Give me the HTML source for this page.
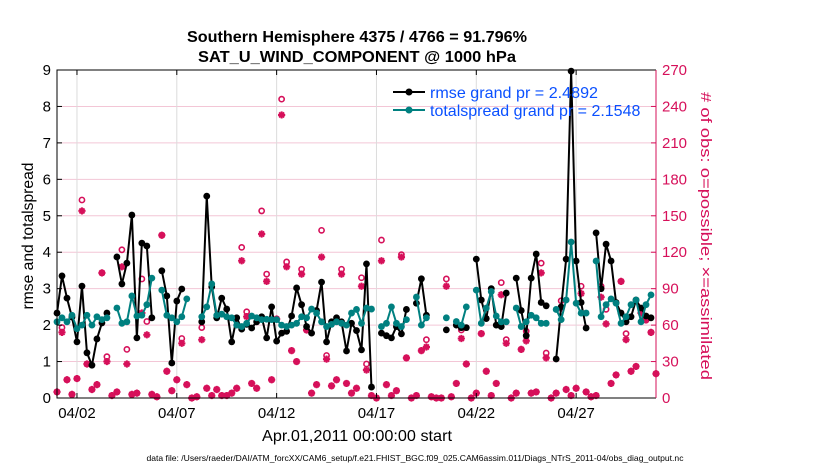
<!DOCTYPE html>
<html><head><meta charset="utf-8"><style>
body{margin:0;background:#fff;width:830px;height:470px;overflow:hidden;font-family:"Liberation Sans",sans-serif}
svg text{font-family:"Liberation Sans",sans-serif}
</style></head><body>
<svg id="chart" width="830" height="470" xmlns="http://www.w3.org/2000/svg">
<text x="357" y="42" font-size="16" font-weight="bold" text-anchor="middle" textLength="340" lengthAdjust="spacingAndGlyphs">Southern Hemisphere 4375 / 4766 = 91.796%</text>
<text x="357" y="62" font-size="16" font-weight="bold" text-anchor="middle" textLength="318" lengthAdjust="spacingAndGlyphs">SAT_U_WIND_COMPONENT @ 1000 hPa</text>
<g id="grid"></g><g id="marks"></g><g id="axes"></g>
<text transform="translate(33,236) rotate(-90)" font-size="15.5" text-anchor="middle" textLength="147" lengthAdjust="spacingAndGlyphs">rmse and totalspread</text>
<text transform="translate(701,236) rotate(90)" font-size="14.5" fill="#d6105a" text-anchor="middle" textLength="288" lengthAdjust="spacingAndGlyphs"># of obs: o=possible; ×=assimilated</text>
<text x="357" y="441" font-size="16" text-anchor="middle" textLength="190" lengthAdjust="spacingAndGlyphs">Apr.01,2011 00:00:00 start</text>
<text x="415" y="461" font-size="8.5" text-anchor="middle" textLength="537" lengthAdjust="spacingAndGlyphs">data file: /Users/raeder/DAI/ATM_forcXX/CAM6_setup/f.e21.FHIST_BGC.f09_025.CAM6assim.011/Diags_NTrS_2011-04/obs_diag_output.nc</text>
<g>
<line x1="393" y1="92" x2="425" y2="92" stroke="#000" stroke-width="2"/><circle cx="409" cy="92" r="3.5" fill="#000"/>
<text x="430" y="98" font-size="16" fill="#0a50ff" textLength="168" lengthAdjust="spacingAndGlyphs">rmse grand pr = 2.4892</text>
<line x1="393" y1="110" x2="425" y2="110" stroke="#008080" stroke-width="2"/><circle cx="409" cy="110" r="3.5" fill="#008080"/>
<text x="430" y="116" font-size="16" fill="#0a50ff">totalspread grand pr = 2.1548</text>
</g>
</svg>
<script>
const rmse=[2.33,3.35,2.74,2.22,1.54,3.07,1.24,0.9,1.62,2.06,2.33,null,3.87,3.13,3.7,5.02,1.65,4.25,4.17,2.2,null,3.49,2.8,0.96,2.66,2.99,null,null,null,2.09,5.54,3.05,2.2,2.74,2.44,1.54,2.2,1.89,2.02,1.92,2.09,2.23,1.65,2.5,1.56,1.78,1.83,2.25,3.02,2.56,1.96,1.78,2.4,3.18,1.54,2.09,2.2,2.09,1.29,2.05,1.85,1.32,3.68,0.3,null,1.78,1.71,1.65,1.96,1.76,2.43,null,2.6,3.27,2.27,null,null,null,1.87,null,2.0,1.93,1.93,null,3.81,2.69,2.18,3.0,2.0,1.96,2.88,null,3.29,2.4,1.71,3.29,3.95,2.62,2.53,null,1.07,2.5,3.81,8.97,3.76,2.62,1.92,null,4.53,3.0,4.22,3.76,2.62,2.33,2.09,2.23,2.69,2.47,2.25,2.2];
const spread=[2.09,2.2,2.09,2.27,1.9,2.0,2.27,2.0,2.23,2.15,2.2,null,2.47,2.05,2.09,2.8,2.25,2.27,2.56,3.29,null,2.96,2.27,2.2,2.09,2.23,2.72,null,null,2.23,2.5,3.13,2.27,2.3,2.23,2.2,2.0,1.96,2.05,2.25,2.2,2.15,2.16,2.15,2.15,2.0,1.96,2.0,2.05,2.23,2.2,2.44,2.33,2.09,1.96,2.02,2.09,2.05,2.0,2.33,2.43,2.05,2.47,2.44,null,1.96,2.05,2.5,2.05,1.96,2.15,null,2.77,2.0,2.2,null,null,null,2.2,null,2.1,2.0,2.5,null,2.96,2.05,2.47,2.92,2.25,2.09,2.09,null,2.47,1.96,2.09,2.27,2.2,2.05,2.05,null,2.43,2.15,2.69,4.28,2.6,2.33,2.33,null,3.76,2.23,2.56,2.72,2.6,2.05,2.23,2.56,2.69,2.09,2.56,2.83];
const assim=[5,54,15,3,16,154,28,7,11,103,30,2,5,108,28,3,4,70,52,3,1,134,22,6,15,45,11,0,1,48,8,2,7,2,2,4,8,113,67,12,8,135,96,15,65,233,108,39,30,102,56,4,11,116,32,10,15,102,12,4,8,92,23,2,0,113,11,2,6,116,33,0,2,39,42,1,0,0,92,1,12,49,28,0,4,53,22,2,12,85,45,0,4,40,47,4,5,103,33,0,4,74,7,2,8,86,5,1,2,83,61,12,19,96,48,22,26,70,65,54,20];
const possible=[5,58,15,3,16,163,28,7,11,103,34,2,5,122,40,3,4,98,63,3,1,134,22,6,15,49,11,0,1,58,8,2,7,2,2,4,8,124,71,12,8,154,102,15,65,246,112,39,30,106,56,4,11,138,35,10,15,106,12,4,8,99,28,2,0,130,11,2,6,118,33,0,2,39,48,1,0,0,98,1,12,56,28,0,4,53,22,2,12,95,48,0,4,40,55,4,5,111,37,0,4,80,7,2,8,92,5,1,2,92,73,12,19,96,53,22,26,73,64,54,20];
const xTickLabels=["04/02","04/07","04/12","04/17","04/22","04/27"];
const xTickDays=[1,6,11,16,21,26];
const yTicks=[0,1,2,3,4,5,6,7,8,9];
const y2Ticks=[0,30,60,90,120,150,180,210,240,270];

const L=57,R=656,T=70,B=398;
const X=d=>L+d*(R-L)/30;
const Y=v=>B-v*(B-T)/9;
const Y2=c=>B-c*(B-T)/270;
const ns="http://www.w3.org/2000/svg";
function mk(tag,attrs,parent){const e=document.createElementNS(ns,tag);for(const k in attrs)e.setAttribute(k,attrs[k]);parent.appendChild(e);return e;}
const grid=document.getElementById('grid'),marks=document.getElementById('marks'),axes=document.getElementById('axes');
const CR="#d6105a";
y2Ticks.forEach((c,i)=>{
  if(i>0&&i<y2Ticks.length-1){const g=mk('line',{x1:L,x2:R,y1:Y2(c),y2:Y2(c),stroke:"#f3c6d6","stroke-width":1},grid);
  
  }
  const t=mk('text',{x:R+6,y:Y2(c)+5,"font-size":15,fill:CR},axes);t.textContent=c;
  
  
  mk('line',{x1:R-5,x2:R,y1:Y2(c),y2:Y2(c),stroke:CR},axes);
});
xTickDays.forEach((d,i)=>{
  const g=mk('line',{x1:X(d),x2:X(d),y1:T,y2:B,stroke:"#dcdcdc","stroke-width":1},grid);
  
  
  mk('line',{x1:X(d),x2:X(d),y1:B,y2:B-5,stroke:"#000"},axes);
  mk('line',{x1:X(d),x2:X(d),y1:T,y2:T+5,stroke:"#000"},axes);
  const t=mk('text',{x:X(d),y:418,"font-size":15,"text-anchor":"middle"},axes);t.textContent=xTickLabels[i];
  
  
});
yTicks.forEach(v=>{
  mk('line',{x1:L,x2:L+5,y1:Y(v),y2:Y(v),stroke:"#000"},axes);
  const t=mk('text',{x:L-6,y:Y(v)+5,"font-size":15,"text-anchor":"end"},axes);t.textContent=v;
  
  
});
mk('path',{d:`M${R},${T}H${L}V${B}H${R}`,fill:"none",stroke:"#000","stroke-width":1},axes);
mk('line',{x1:R,x2:R,y1:T,y2:B,stroke:CR,"stroke-width":1},axes);

const tOf=i=>i/4;
possible.forEach((c,i)=>{
  if(c==null)return;
  const e=mk('circle',{cx:X(tOf(i)),cy:Y2(c),r:2.6,fill:"none",stroke:CR,"stroke-width":1.6},marks);
  
  
});
assim.forEach((c,i)=>{
  if(c==null)return;
  const x=X(tOf(i)),y=Y2(c),s=3.6;
  const e=mk('path',{d:`M${x-s},${y}H${x+s}M${x},${y-s}V${y+s}M${x-s*.7},${y-s*.7}L${x+s*.7},${y+s*.7}M${x-s*.7},${y+s*.7}L${x+s*.7},${y-s*.7}`,stroke:CR,"stroke-width":2},marks);
  
  
});
function series(arr,color,name){
  let d="",pen=false;
  arr.forEach((v,i)=>{if(v==null){pen=false;return;}d+=(pen?"L":"M")+X(tOf(i))+","+Y(v);pen=true;});
  const p=mk('path',{d:d,fill:"none",stroke:color,"stroke-width":2,"stroke-linejoin":"round"},marks);
  
  
  arr.forEach((v,i)=>{if(v==null)return;
    const c=mk('circle',{cx:X(tOf(i)),cy:Y(v),r:3.4,fill:color},marks);
    
    
  });
}
series(rmse,"#000","rmse");
series(spread,"#008080","totalspread");
</script>
</body></html>
